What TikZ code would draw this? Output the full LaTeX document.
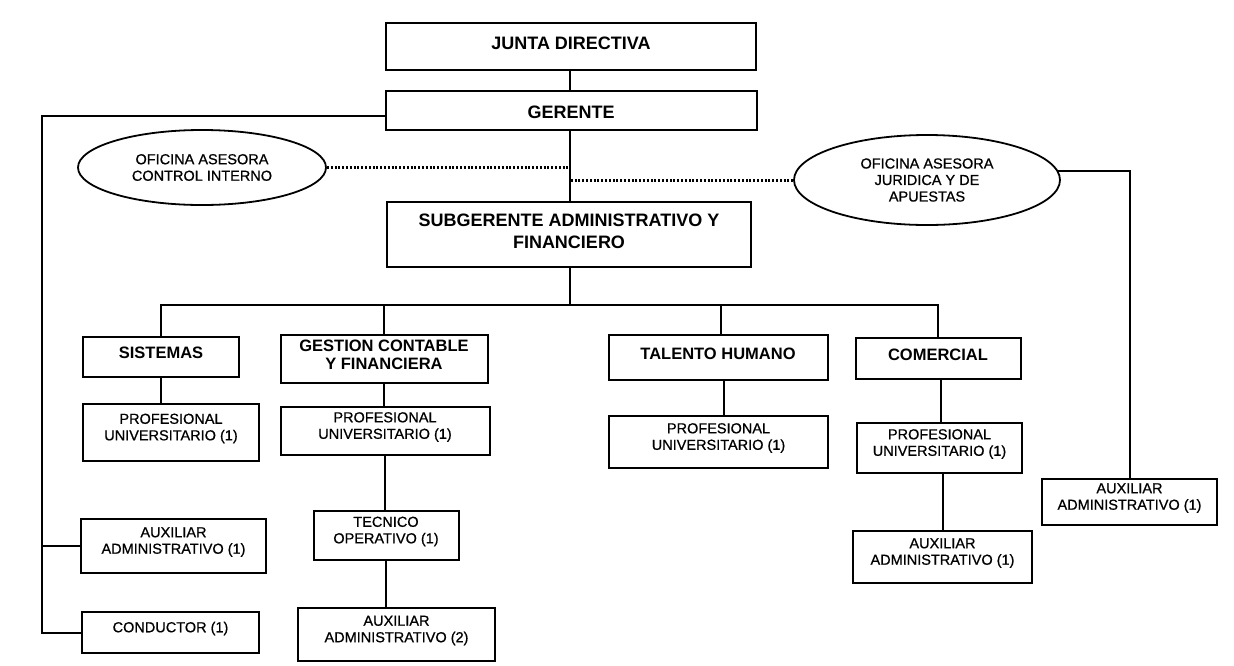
\documentclass[tikz,border=0pt]{standalone}
\usepackage{fontspec}
\setmainfont{Liberation Sans}
\newfontfamily\smfont[FakeBold=0.7]{Liberation Sans}
\usetikzlibrary{shapes.geometric}
\begin{document}
\begin{tikzpicture}[x=1pt,y=-1pt,
 box/.style={draw, rectangle, line width=2pt, inner sep=0pt},
 oval/.style={draw, ellipse, line width=1.8pt, inner sep=0pt, align=center,
   font=\fontsize{14.5}{16.5}\smfont},
 big/.style={font=\fontsize{18}{21.5}\selectfont\bfseries, align=center, inner sep=0pt, yshift=3pt},
 mid/.style={font=\fontsize{16.5}{17.5}\selectfont\bfseries, align=center, inner sep=0pt, yshift=4pt},
 sm/.style={font=\fontsize{14.5}{16.5}\smfont, align=center, inner sep=0pt, yshift=4pt},
 link/.style={line width=2pt},
 dotline/.style={line width=3pt, dash pattern=on 2pt off 1.8pt}
]
\useasboundingbox[fill=white] (0,0) rectangle (1234,665);

% top spine
\node[box, minimum width=370pt, minimum height=47pt, label={[big]center:JUNTA DIRECTIVA}] (junta) at (571,46.5) {};
\node[box, minimum width=371pt, minimum height=39pt, label={[big, yshift=-5pt]center:GERENTE}] (gerente) at (571,110.5) {};
\node[box, minimum width=364pt, minimum height=65pt, label={[big]center:{SUBGERENTE ADMINISTRATIVO Y\\FINANCIERO}}] (sub) at (569,234.5) {};

% advisory offices
\node[oval, minimum width=248pt, minimum height=75pt] (ctrl) at (202,167.5) {OFICINA ASESORA\\CONTROL INTERNO};
\node[oval, minimum width=266pt, minimum height=90pt] (jur) at (927,180) {OFICINA ASESORA\\JURIDICA Y DE\\APUESTAS};

% second level
\node[box, minimum width=156pt, minimum height=40pt, label={[mid]center:SISTEMAS}] (sis) at (161,357) {};
\node[box, minimum width=207pt, minimum height=48pt, label={[mid]center:{GESTION CONTABLE\\Y FINANCIERA}}] (gest) at (384,359) {};
\node[box, minimum width=219pt, minimum height=45pt, label={[mid]center:TALENTO HUMANO}] (tal) at (718,357.5) {};
\node[box, minimum width=165pt, minimum height=41pt, label={[mid]center:COMERCIAL}] (com) at (938,358.5) {};

% third level
\node[box, minimum width=176pt, minimum height=57pt, label={[sm]center:{PROFESIONAL\\UNIVERSITARIO (1)}}] (sisP) at (171,432.5) {};
\node[box, minimum width=209pt, minimum height=48pt, label={[sm]center:{PROFESIONAL\\UNIVERSITARIO (1)}}] (gestP) at (385,431) {};
\node[box, minimum width=219pt, minimum height=52pt, label={[sm]center:{PROFESIONAL\\UNIVERSITARIO (1)}}] (talP) at (718.5,442) {};
\node[box, minimum width=165pt, minimum height=50pt, label={[sm]center:{PROFESIONAL\\UNIVERSITARIO (1)}}] (comP) at (939.5,448) {};

% lower boxes
\node[box, minimum width=185pt, minimum height=54pt, label={[sm]center:{AUXILIAR\\ADMINISTRATIVO (1)}}] (auxL) at (173.5,546) {};
\node[box, minimum width=145pt, minimum height=49pt, label={[sm]center:{TECNICO\\OPERATIVO (1)}}] (tec) at (386,535.5) {};
\node[box, minimum width=177pt, minimum height=41pt, label={[sm]center:{CONDUCTOR (1)}}] (cond) at (170.5,632.5) {};
\node[box, minimum width=197pt, minimum height=53pt, label={[sm]center:{AUXILIAR\\ADMINISTRATIVO (2)}}] (aux2) at (396.5,634.5) {};
\node[box, minimum width=179pt, minimum height=52pt, label={[sm]center:{AUXILIAR\\ADMINISTRATIVO (1)}}] (comA) at (942.5,557) {};
\node[box, minimum width=175pt, minimum height=46pt, label={[sm]center:{AUXILIAR\\ADMINISTRATIVO (1)}}] (auxR) at (1129.5,502) {};

% helper coordinates
\coordinate (bus) at (570,305);
\coordinate (gl) at (42,116);

% spine connectors
\draw[link] (junta.south -| bus) -- (gerente.north -| bus);
\draw[link] (gerente.south -| bus) -- (sub.north -| bus);
\draw[link] (sub.south -| bus) -- (bus);

% bus to departments
\draw[link] (sis.north) -- (sis.north |- bus) -- (com.north |- bus) -- (com.north);
\draw[link] (gest.north |- bus) -- (gest.north);
\draw[link] ([xshift=3pt]tal.north |- bus) -- ([xshift=3pt]tal.north);

% department chains
\draw[link] (sis.south) -- (sis.south |- sisP.north);
\draw[link] (gest.south) -- (gest.south |- gestP.north);
\draw[link] (gestP.south) -- (gestP.south |- tec.north);
\draw[link] (tec.south) -- (tec.south |- aux2.north);
\draw[link] ([xshift=6pt]tal.south) -- ([xshift=6pt]tal.south |- talP.north);
\draw[link] ([xshift=3pt]com.south) -- ([xshift=3pt]com.south |- comP.north);
\draw[link] ([xshift=3.5pt]comP.south) -- ([xshift=3.5pt]comP.south |- comA.north);

% left staff line from Gerente
\draw[link] (gerente.west |- gl) -- (gl) -- (gl |- cond.west) -- (cond.west);
\draw[link] (gl |- auxL.west) -- (auxL.west);

% advisory dotted links
\draw[dotline] (ctrl.east) -- (ctrl.east -| bus);
\draw[dotline] (jur.west) -- (jur.west -| bus);

% right line from juridica office
\draw[link] (jur.4) -- (jur.4 -| auxR.north) -- (auxR.north);
\end{tikzpicture}
\end{document}
